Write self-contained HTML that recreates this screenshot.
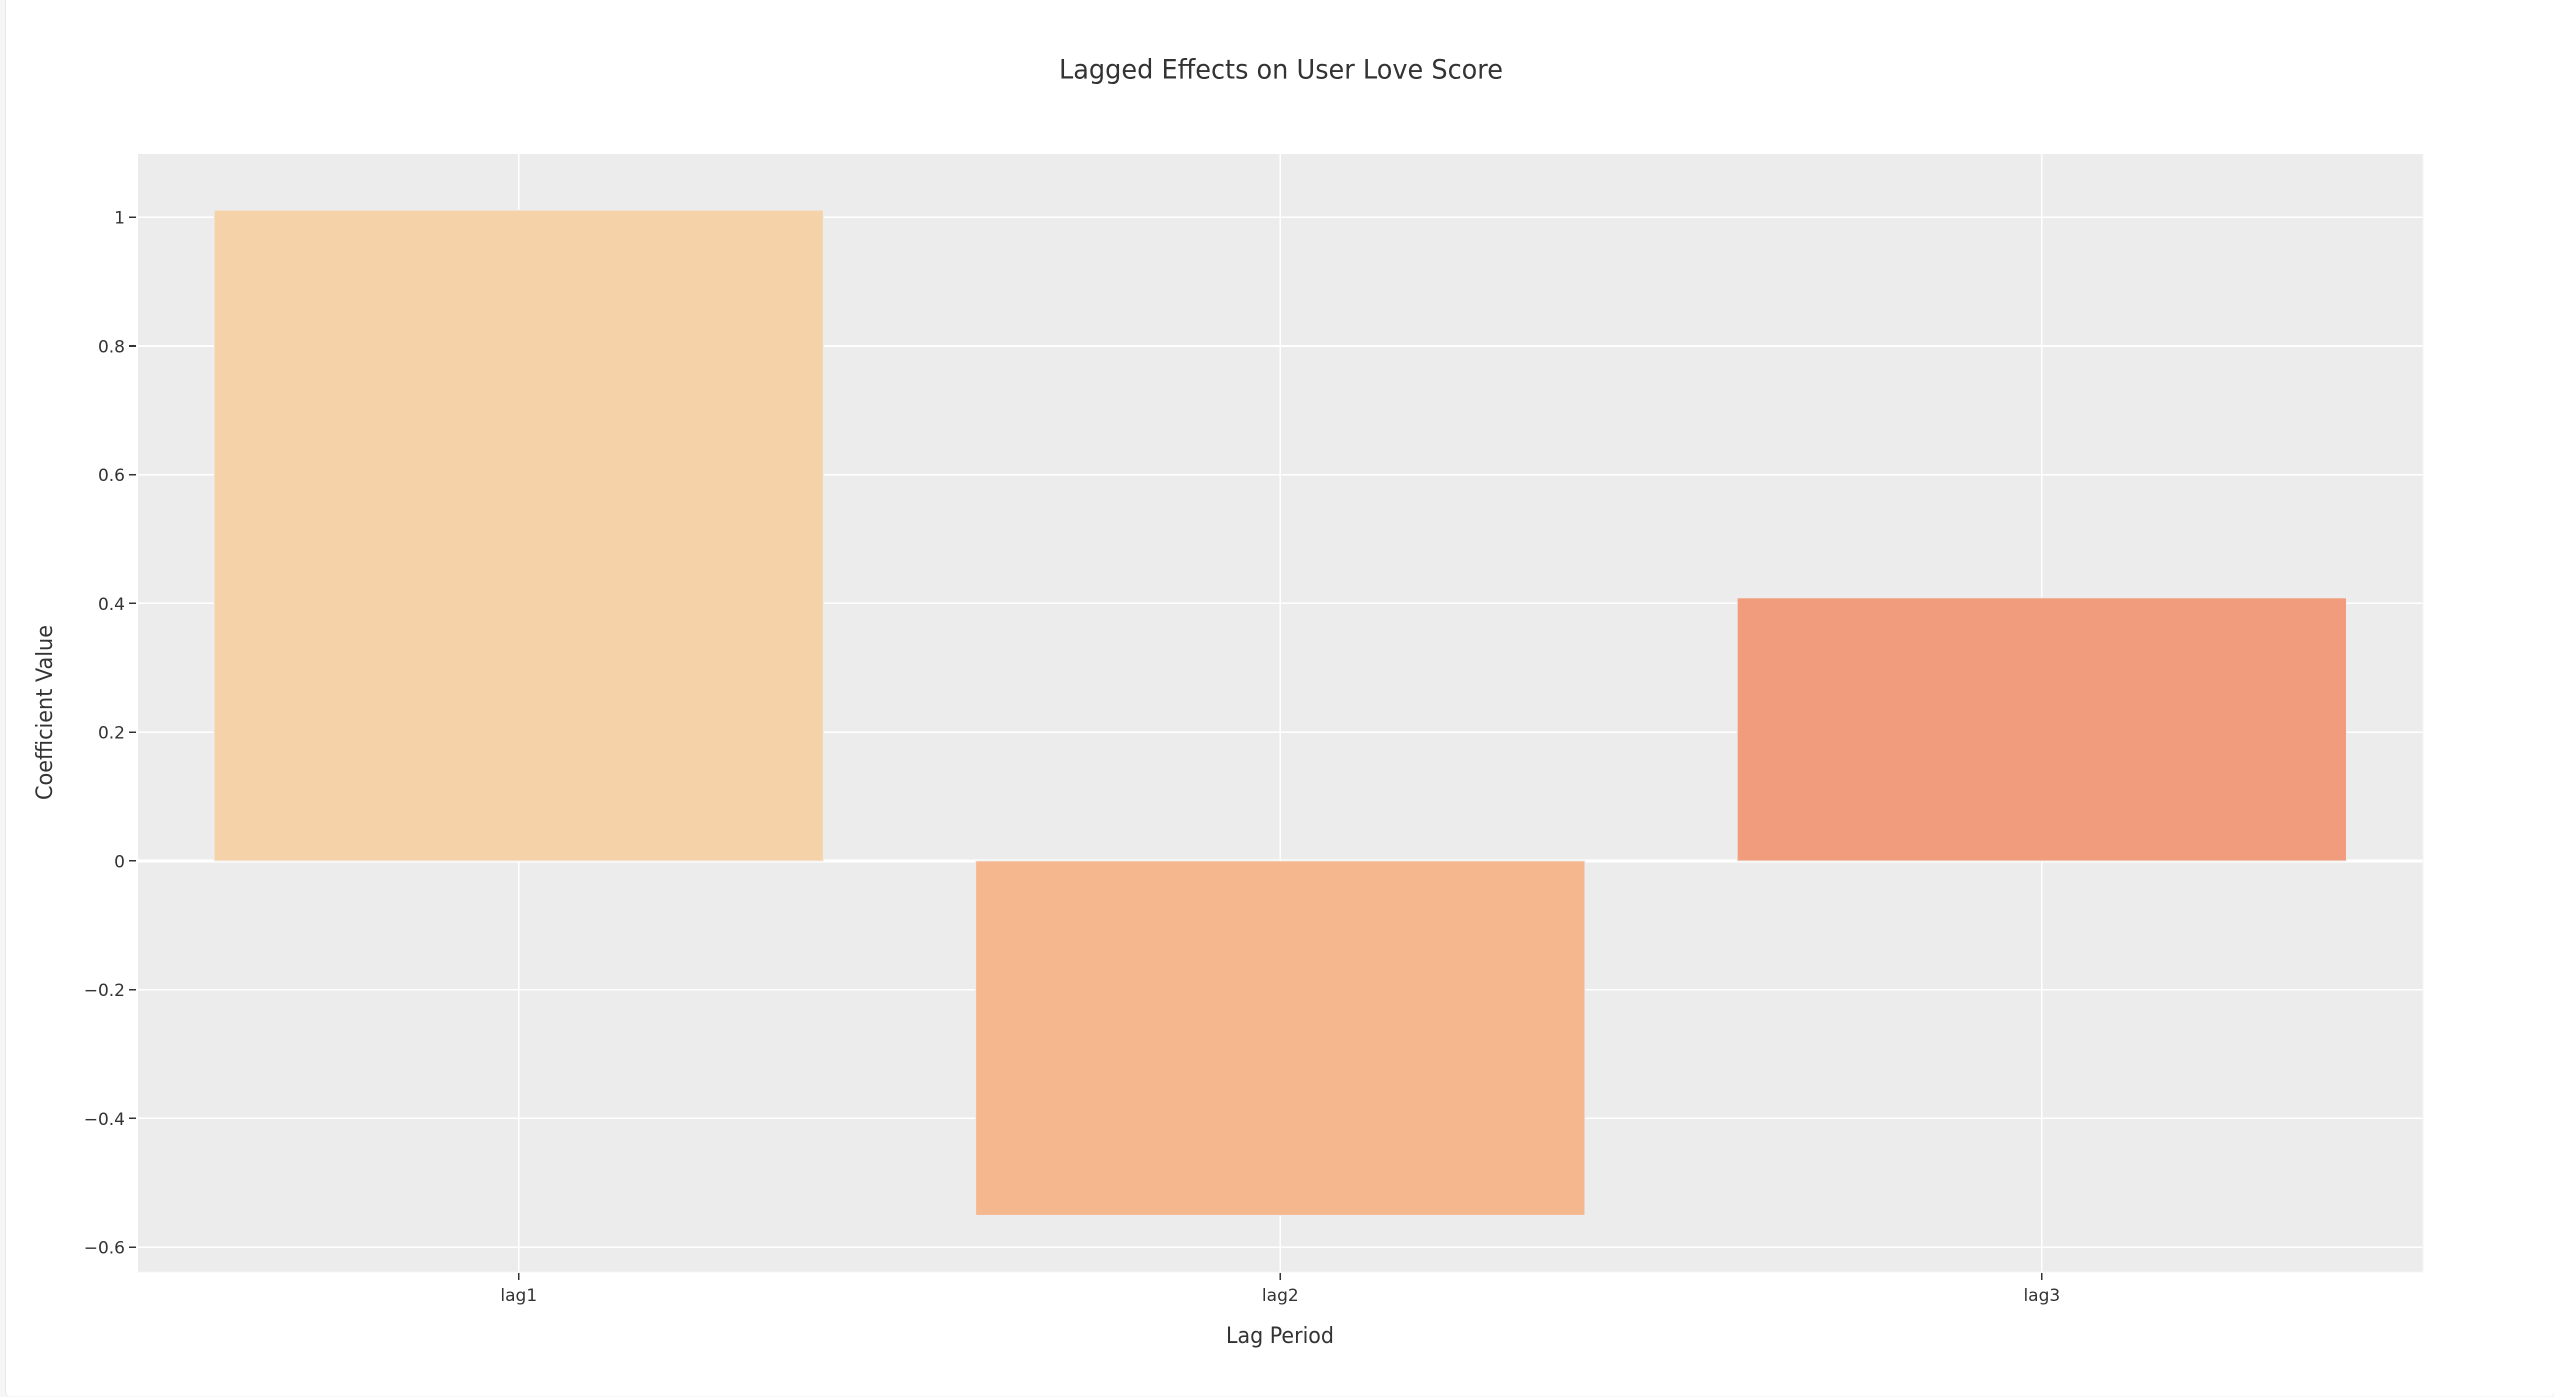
<!DOCTYPE html>
<html>
<head>
<meta charset="utf-8">
<title>Lagged Effects on User Love Score</title>
<style>
html,body{margin:0;padding:0;width:2554px;height:1397px;overflow:hidden;background:#f6f6f6;}
#panel{position:absolute;left:5px;top:-10px;width:2549px;height:1406px;background:#fff;border-left:1px solid #e8e8e8;box-sizing:border-box;border-radius:0 0 5px 5px;}
svg{position:absolute;left:0;top:0;}
text{font-family:"DejaVu Sans","Liberation Sans",sans-serif;fill:#333;}
</style>
</head>
<body>
<div id="panel"></div>
<svg id="chart" width="2554" height="1397" viewBox="0 0 2554 1397" xmlns="http://www.w3.org/2000/svg"></svg>
<script>
const categories = ["lag1", "lag2", "lag3"];
const coefficients = [1.011, -0.5506, 0.4087];
const barColors = ["#f6d2a9", "#f5b78e", "#f19c7c"];
const yTicks = [1, 0.8, 0.6, 0.4, 0.2, 0, -0.2, -0.4, -0.6];
const yTickLabels = ["1", "0.8", "0.6", "0.4", "0.2", "0", "\u22120.2", "\u22120.4", "\u22120.6"];

const plot = { left: 138, right: 2422.6, top: 154, bottom: 1271.5 };
const yRange = { min: -0.6378, max: 1.0982 };
const bandFill = 0.8;

const svg = document.getElementById('chart');
const NS = 'http://www.w3.org/2000/svg';

function xCenter(i) {
  const band = (plot.right - plot.left) / categories.length;
  return plot.left + band * (i + 0.5);
}
function bandwidth() {
  return (plot.right - plot.left) / categories.length * bandFill;
}
function yScale(v) {
  return plot.bottom - (v - yRange.min) / (yRange.max - yRange.min) * (plot.bottom - plot.top);
}
function make(tag, attrs, text) {
  const el = document.createElementNS(NS, tag);
  for (const k in attrs) el.setAttribute(k, attrs[k]);
  if (text !== undefined) el.textContent = text;
  svg.appendChild(el);
  return el;
}

// plot background
const bg = make('rect', { x: plot.left, y: plot.top, width: plot.right - plot.left, height: plot.bottom - plot.top, fill: '#ececec' });



// axis edge highlights
const edgeB = make('line', { x1: plot.left, x2: plot.right + 1, y1: plot.bottom + 0.5, y2: plot.bottom + 0.5, stroke: '#f5f5f5', 'stroke-width': 1 });


const edgeR = make('line', { x1: plot.right + 0.5, x2: plot.right + 0.5, y1: plot.top, y2: plot.bottom, stroke: '#f5f5f5', 'stroke-width': 1 });



// vertical grid lines
categories.forEach(function (c, i) {
  const g = make('line', { x1: xCenter(i), x2: xCenter(i), y1: plot.top, y2: plot.bottom, stroke: '#fff', 'stroke-width': 1.6, 'shape-rendering': 'crispEdges' });
  
  
});

// horizontal grid lines, ticks, labels
yTicks.forEach(function (t, i) {
  const y = yScale(t);
  const g = make('line', { x1: plot.left, x2: plot.right, y1: y, y2: y, stroke: '#fff', 'stroke-width': t === 0 ? 3.2 : 1.6, 'shape-rendering': 'crispEdges' });
  
  
  const tick = make('line', { x1: 129, x2: 136, y1: y, y2: y, stroke: '#333', 'stroke-width': 1.6, 'shape-rendering': 'crispEdges' });
  
  
  const lab = make('text', { x: 125, y: y + 6.5, 'text-anchor': 'end', 'font-size': 17 }, yTickLabels[i]);
  
  
});

// bars
categories.forEach(function (c, i) {
  const v = coefficients[i];
  const y0 = yScale(0);
  const y1 = yScale(v);
  const w = bandwidth();
  const bar = make('rect', { x: xCenter(i) - w / 2, y: Math.min(y0, y1), width: w, height: Math.abs(y1 - y0), fill: barColors[i], stroke: '#ededed', 'stroke-width': 0.9 });
  
  
});

// x ticks and labels
categories.forEach(function (c, i) {
  const tick = make('line', { x1: xCenter(i), x2: xCenter(i), y1: 1273, y2: 1280, stroke: '#333', 'stroke-width': 1.6, 'shape-rendering': 'crispEdges' });
  
  
  const lab = make('text', { x: xCenter(i), y: 1301, 'text-anchor': 'middle', 'font-size': 17 }, c);
  
  
});

// titles
const title = make('text', { x: 1281, y: 78.5, 'text-anchor': 'middle', 'font-size': 27, textLength: 444, lengthAdjust: 'spacingAndGlyphs' }, 'Lagged Effects on User Love Score');



const xTitle = make('text', { x: 1280, y: 1343, 'text-anchor': 'middle', 'font-size': 22, textLength: 108, lengthAdjust: 'spacingAndGlyphs' }, 'Lag Period');



const yTitle = make('text', { x: 0, y: 0, transform: 'translate(52 712.5) rotate(-90)', 'text-anchor': 'middle', 'font-size': 22, textLength: 175, lengthAdjust: 'spacingAndGlyphs' }, 'Coefficient Value');


</script>
</body>
</html>
